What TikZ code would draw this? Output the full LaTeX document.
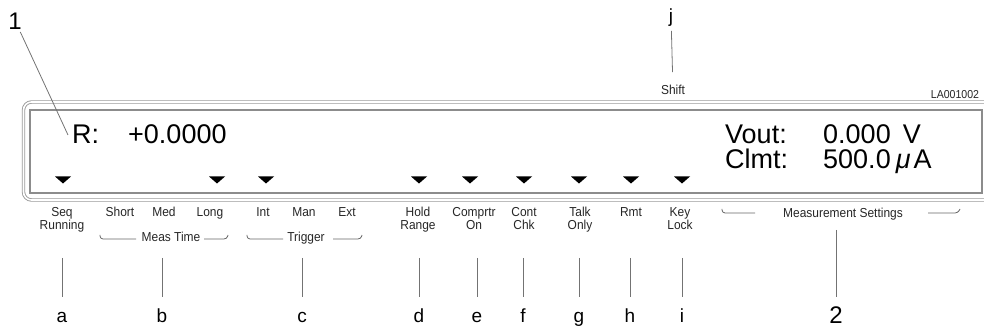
\documentclass[tikz,border=0pt]{standalone}
\usepackage{fontspec}
\setmainfont{Liberation Sans}
\newfontfamily\lblfont[FakeStretch=0.92]{Liberation Sans}
\begin{document}
\begin{tikzpicture}[x=1pt,y=-1pt,
  lead/.style={draw=black!55, line width=0.8pt},
  brk/.style={draw=black!60, line width=0.8pt, rounded corners=3pt},
  lbl/.style={font=\lblfont\fontsize{13}{13}\selectfont, inner sep=0pt, text height=9.3pt, text depth=0pt, text=black!85},
  tiny/.style={font=\lblfont\fontsize{11.5}{11.5}\selectfont, inner sep=0pt, text height=8.2pt, text depth=0pt, text=black!85},
  big/.style={font=\fontsize{27}{27}\selectfont, inner sep=0pt, text height=19.4pt, text depth=0pt, anchor=west},
  letter/.style={font=\fontsize{19}{19}\selectfont, inner sep=0pt, text height=13.5pt, text depth=0pt},
  num/.style={font=\fontsize{24}{24}\selectfont, inner sep=0pt, text height=17.2pt, text depth=0pt},
  tri/.style={fill=black}]
\useasboundingbox (0,0) rectangle (984,328);

% frame
\draw[draw=black!40, double=white, double distance=1.6pt, line width=0.9pt, rounded corners=8pt]
  (986,102) -- (23.5,102) -- (23.5,200) -- (986,200);
\draw[black!45, line width=1.3pt] (30,110) rectangle (982,193);

% display text
\node[big] (rl) at (72,134) {R:};
\node[big] (rv) at (128,134) {+0.0000};
\node[big] (vl) at (725,134) {Vout:};
\node[big] (vv) at (823,134) {0.000\hspace{12pt}V};
\node[big] (cl) at (725,159) {Clmt:};
\node[big] (cv) at (823,159) {500.0\hspace{5pt}{\itshape μ}\hspace{3pt}A};

% triangles
\foreach \x in {63,217,266,419,470,524,579,631,682}
  \fill[tri] (\x-8,176.5) -- (\x+8,176.5) -- (\x,183.5) -- cycle;

% labels
\node[lbl] (seq) at (62,212) {Seq};
\node[lbl] (running) at (62,225) {Running};
\node[lbl] (short) at (120,212) {Short};
\node[lbl] (med) at (164,212) {Med};
\node[lbl] (long) at (210,212) {Long};
\node[lbl] (meas) at (171,237) {Meas Time};
\node[lbl] (int) at (263,212) {Int};
\node[lbl] (man) at (304,212) {Man};
\node[lbl] (ext) at (347,212) {Ext};
\node[lbl] (trig) at (306,237) {Trigger};
\node[lbl] (hold) at (418,212) {Hold};
\node[lbl] (range) at (418,225) {Range};
\node[lbl] (comp) at (474,212) {Comprtr};
\node[lbl] (on) at (474,225) {On};
\node[lbl] (cont) at (524,212) {Cont};
\node[lbl] (chk) at (524,225) {Chk};
\node[lbl] (talk) at (580,212) {Talk};
\node[lbl] (only) at (580,225) {Only};
\node[lbl] (rmt) at (631,212) {Rmt};
\node[lbl] (key) at (680,212) {Key};
\node[lbl] (lock) at (680,225) {Lock};
\node[lbl] (ms) at (843,213) {Measurement Settings};
\node[lbl] (shift) at (673,90) {Shift};
\node[tiny] (code) at (955,94) {LA001002};

% brackets
\draw[brk] (100,235) -- (100,239) -- (136,239);
\draw[brk] (204,239) -- (227,239) -- (228,235);
\draw[brk] (247,235) -- (247,239) -- (283,239);
\draw[brk] (333,239) -- (361,239) -- (362,235);
\draw[brk] (722,209) -- (722,213) -- (755,213);
\draw[brk] (928,213) -- (958,213) -- (960,209);

% callout letters
\node[num] (n1) at (15,20.5) {1};
\node[num] (n2) at (836,315) {2};
\node[letter] (la) at (62,316) {a};
\node[letter] (lb) at (162,316) {b};
\node[letter] (lc) at (302,316) {c};
\node[letter] (ld) at (419,316) {d};
\node[letter] (le) at (477,316) {e};
\node[letter] (lf) at (523,316) {f};
\node[letter] (lg) at (579,316) {g};
\node[letter] (lh) at (630,316) {h};
\node[letter] (li) at (682,316) {i};
\node[letter] (lj) at (671,16) {j};

% leader lines
\coordinate (r1) at (68,135);
\draw[lead, shorten <=3pt] (n1) -- (r1);
\draw[lead, shorten <=8pt, shorten >=13pt] (lj) -- (shift);
\foreach \x/\n in {62/la,162/lb,302/lc,419/ld,477/le,523/lf,579/lg,630/lh,682/li}{
  \coordinate (t\n) at (\x,258);
  \draw[lead, shorten >=12pt] (t\n) -- (\n);
}
\coordinate (m1) at (836,230);
\draw[lead, shorten >=9pt] (m1) -- (n2);
\end{tikzpicture}
\end{document}
